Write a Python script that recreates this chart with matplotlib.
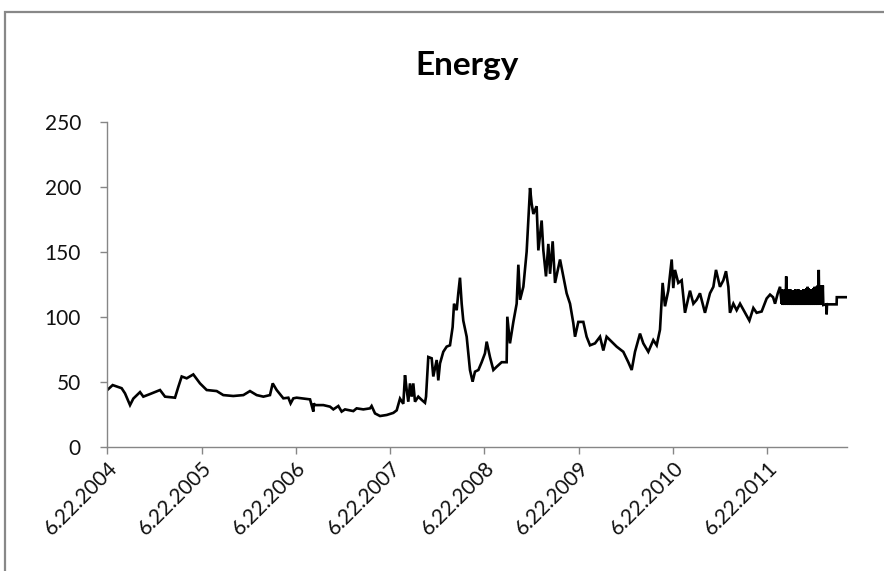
import numpy as np
import matplotlib
matplotlib.use("Agg")
import matplotlib.pyplot as plt
from matplotlib.patches import Rectangle

# ---------------- data (years since 6.22.2004, index value) ----------------
tick_labels = ["6.22.2004", "6.22.2005", "6.22.2006", "6.22.2007",
               "6.22.2008", "6.22.2009", "6.22.2010", "6.22.2011"]

years_a = [0.000, 0.057, 0.152, 0.188, 0.241, 0.276, 0.347, 0.382, 0.453, 0.559,
           0.612, 0.718, 0.753, 0.789, 0.842, 0.912, 0.983, 1.054, 1.160, 1.230,
           1.336, 1.443, 1.513, 1.584, 1.655, 1.725, 1.754, 1.796, 1.867, 1.920,
           1.944, 1.973, 2.008, 2.150, 2.185, 2.190, 2.203, 2.291, 2.362, 2.397,
           2.450, 2.485, 2.521, 2.609, 2.644, 2.715, 2.786, 2.803, 2.839, 2.892,
           2.963, 3.033, 3.069, 3.104, 3.139, 3.157, 3.175, 3.192, 3.210, 3.228,
           3.245, 3.263, 3.298, 3.334, 3.369, 3.380, 3.404, 3.440, 3.457, 3.493,
           3.510, 3.528, 3.563, 3.599, 3.634, 3.662, 3.677, 3.705, 3.722, 3.740,
           3.758, 3.775, 3.811, 3.846, 3.874, 3.899, 3.935, 3.970, 4.005, 4.023,
           4.058, 4.094, 4.129, 4.182, 4.235, 4.242, 4.270, 4.306, 4.341, 4.359,
           4.377, 4.412, 4.447, 4.465, 4.483, 4.500, 4.518, 4.553, 4.571, 4.606,
           4.624, 4.652, 4.677, 4.695, 4.723, 4.748, 4.801, 4.836, 4.871, 4.907,
           4.942, 4.960, 4.995, 5.048, 5.083, 5.119, 5.172, 5.225, 5.260, 5.295,
           5.348, 5.401, 5.472, 5.525, 5.561, 5.596, 5.649, 5.684, 5.737, 5.790,
           5.826, 5.861, 5.889, 5.914, 5.949, 5.985, 6.002, 6.020, 6.055, 6.091,
           6.126, 6.179, 6.215, 6.250, 6.285, 6.338, 6.391, 6.427, 6.455, 6.497,
           6.533, 6.561, 6.586, 6.603, 6.639, 6.674, 6.710, 6.763, 6.809, 6.851,
           6.886, 6.939, 6.992, 7.028, 7.060, 7.081, 7.110, 7.134]
energy_a = [43.6, 47.4, 45.0, 41.0, 32.0, 37.0, 42.0, 38.5, 40.5, 43.6,
            38.5, 37.7, 46.0, 54.0, 52.6, 55.6, 48.7, 43.6, 42.8, 39.7,
            39.0, 39.7, 42.8, 39.7, 38.5, 39.7, 48.7, 43.6, 37.2, 37.7,
            33.3, 37.2, 37.7, 36.4, 27.0, 33.3, 32.0, 32.0, 30.8, 28.7,
            31.3, 27.0, 28.7, 27.4, 29.5, 28.7, 29.5, 31.3, 25.6, 23.6,
            24.4, 26.0, 28.0, 37.0, 33.0, 55.0, 43.6, 34.6, 48.7, 38.5,
            48.7, 34.6, 38.5, 36.0, 33.8, 38.5, 69.0, 68.0, 54.0, 66.7,
            51.0, 64.0, 73.0, 77.0, 78.0, 92.0, 110.0, 105.0, 118.0, 130.0,
            110.0, 97.0, 84.6, 59.0, 50.0, 57.7, 59.0, 65.0, 71.8, 80.8,
            69.0, 59.0, 61.5, 65.0, 65.0, 100.0, 79.5, 96.0, 110.0, 140.0,
            113.0, 123.0, 150.0, 174.0, 199.0, 187.0, 179.0, 185.0, 151.0, 174.0,
            151.0, 131.0, 156.0, 133.0, 158.0, 126.0, 144.0, 131.0, 118.0, 110.0,
            95.0, 84.6, 96.0, 96.0, 84.6, 78.0, 79.5, 84.6, 74.0, 84.6,
            80.8, 77.0, 73.0, 65.0, 59.0, 73.0, 87.0, 79.5, 73.0, 82.0,
            78.0, 90.0, 126.0, 108.0, 120.0, 144.0, 122.0, 136.0, 126.0, 128.0,
            103.0, 120.0, 110.0, 113.0, 118.0, 103.0, 118.0, 123.0, 136.0, 123.0,
            128.0, 135.0, 123.0, 103.0, 110.0, 105.0, 110.0, 103.0, 97.0, 106.7,
            103.0, 104.0, 114.0, 117.0, 115.0, 110.0, 118.0, 123.0]

# densely oscillating stretch (evenly spaced trading days)
dense_start, dense_end = 7.151, 7.593
energy_dense = [110, 121, 109, 120, 110, 120, 109, 121, 110, 131, 109, 120,
                110, 121, 109, 120, 110, 121, 109, 120, 110, 119, 109, 120,
                110, 120, 109, 121, 110, 120, 109, 120, 110, 121, 109, 120,
                110, 120, 109, 119, 110, 120, 109, 121, 110, 120, 109, 121,
                110, 122, 109, 123, 110, 122, 109, 121, 110, 121, 109, 120,
                110, 121, 109, 122, 110, 123, 109, 122, 110, 123, 109, 124,
                110, 136, 109, 124, 110, 124, 109, 123, 110, 124, 109]

years_b = [7.625, 7.628, 7.632, 7.734, 7.736, 7.841]
energy_b = [109.5, 101.8, 109.5, 109.5, 115.0, 115.0]

# ---------------- build series ----------------
years_dense = np.linspace(dense_start, dense_end, len(energy_dense))
x = np.concatenate([years_a, years_dense, years_b])
y = np.concatenate([energy_a, energy_dense, energy_b])

plt.rcParams['font.family'] = ['Lato', 'DejaVu Sans']

W, H = 884, 571
fig = plt.figure(figsize=(W / 100, H / 100), dpi=100)
fig.patch.set_facecolor('white')

left, right = 107.3 / W, 846.7 / W
bottom, top = 1 - 446.7 / H, 1 - 121.7 / H
ax = fig.add_axes([left, bottom, right - left, top - bottom])

ax.plot(x, y, color='black', lw=1.9, solid_joinstyle='miter')

ax.set_xlim(0, 7.841)
ax.set_ylim(0, 250)
ax.set_yticks([0, 50, 100, 150, 200, 250])
ax.set_xticks(range(len(tick_labels)))
ax.set_xticklabels(tick_labels, rotation=45, ha='right', va='top',
                   rotation_mode='anchor')

gray = '#868686'
for s in ['top', 'right']:
    ax.spines[s].set_visible(False)
for s in ['left', 'bottom']:
    ax.spines[s].set_color(gray)
    ax.spines[s].set_linewidth(1.0)
ax.tick_params(axis='both', colors=gray, labelcolor='#111111',
               labelsize=15, length=5, width=1.0, direction='out')
ax.tick_params(axis='x', pad=3)
ax.tick_params(axis='y', pad=14)

fig.text(0.528, 1 - 65 / H, "Energy", ha='center', va='center',
         fontsize=24, fontweight='bold', color='black')

# outer chart border (cut off at right and bottom in the reference)
fig.patches.append(Rectangle((5 / W, -0.1), 1.2, (1 - 12 / H) + 0.1,
                             transform=fig.transFigure, fill=False,
                             edgecolor='#888888', lw=1.6))

fig.savefig('out.png', dpi=100)
